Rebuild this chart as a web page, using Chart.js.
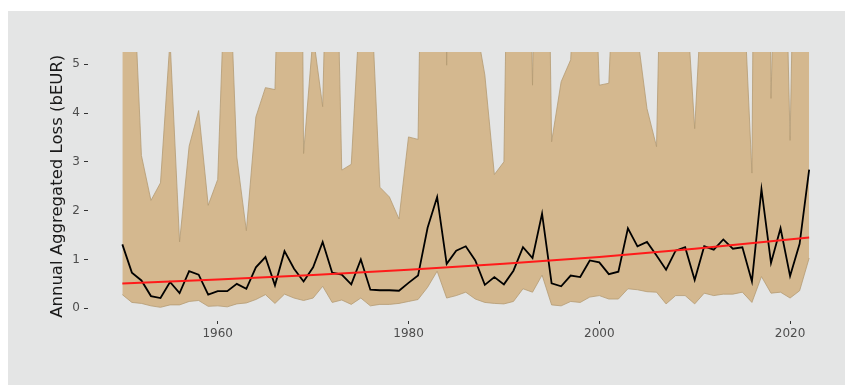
<!DOCTYPE html>
<html>
<head>
<meta charset="utf-8">
<script src="https://cdn.jsdelivr.net/npm/chart.js@4"></script>
<style>
  html, body { margin: 0; padding: 0; background: #ffffff; }
  #panel { position: absolute; left: 8px; top: 11px; width: 837px; height: 374px; background: #e4e5e5; }
</style>
</head>
<body>
<div id="panel"><canvas id="loss-chart"></canvas></div>
<script>
// years of the series
const years = [1950,1951,1952,1953,1954,1955,1956,1957,1958,1959,
  1960,1961,1962,1963,1964,1965,1966,1967,1968,1969,
  1970,1971,1972,1973,1974,1975,1976,1977,1978,1979,
  1980,1981,1982,1983,1984,1985,1986,1987,1988,1989,
  1990,1991,1992,1993,1994,1995,1996,1997,1998,1999,
  2000,2001,2002,2003,2004,2005,2006,2007,2008,2009,
  2010,2011,2012,2013,2014,2015,2016,2017,2018,2019,
  2020,2021,2022];

// median annual loss (bEUR)
const median = [1.31,0.73,0.57,0.25,0.21,0.54,0.31,0.76,0.69,0.28,
  0.35,0.35,0.50,0.40,0.84,1.05,0.47,1.17,0.81,0.55,
  0.84,1.36,0.73,0.69,0.49,1.00,0.38,0.37,0.37,0.36,
  0.52,0.67,1.65,2.28,0.91,1.18,1.27,0.98,0.48,0.64,
  0.49,0.77,1.25,1.03,1.94,0.51,0.45,0.67,0.64,0.98,
  0.94,0.70,0.75,1.64,1.27,1.36,1.08,0.79,1.18,1.25,
  0.58,1.27,1.20,1.41,1.22,1.25,0.55,2.44,0.93,1.64,
  0.66,1.32,2.84];

// lower bound of the band
const lower = [0.28,0.12,0.10,0.05,0.02,0.07,0.07,0.14,0.16,0.04,
  0.05,0.03,0.09,0.11,0.18,0.28,0.10,0.29,0.21,0.16,
  0.21,0.45,0.12,0.17,0.08,0.21,0.05,0.08,0.08,0.10,
  0.14,0.18,0.43,0.76,0.21,0.26,0.33,0.19,0.12,0.10,
  0.09,0.14,0.40,0.33,0.68,0.07,0.05,0.14,0.12,0.23,
  0.26,0.19,0.19,0.40,0.38,0.34,0.33,0.09,0.26,0.26,
  0.09,0.31,0.26,0.29,0.29,0.33,0.12,0.65,0.31,0.33,
  0.21,0.36,1.03];

// upper bound of the band (values above ~5.25 are cut off in the plot)
const upper = [9,7.6,3.13,2.21,2.57,5.5,1.36,3.32,4.05,2.11,
  2.64,8.2,3.10,1.59,3.92,4.52,4.48,12,30,3.17,
  5.6,4.13,12,2.83,2.95,6.5,6.8,2.48,2.28,1.83,
  3.51,3.46,16,20,4.98,20,15,5.9,4.78,2.74,
  3.00,16,15,4.57,17,3.41,4.64,5.09,9,10,
  4.57,4.61,9.3,8,5.6,4.09,3.31,12.7,10,6.8,
  3.68,7.4,9,9,9,7.1,2.77,30,4.3,12,
  3.44,14,10];

// trend line (red)
const trendYears = [1950,1960,1970,1980,1990,2000,2010,2022];
const trendValues = [0.51,0.59,0.68,0.79,0.91,1.05,1.22,1.45];

const xTicks = [1960,1980,2000,2020];
const yTicks = [0,1,2,3,4,5];

function pts(xs, ys) {
  return xs.map((x, i) => ({x: x, y: ys[i]}));
}

const tickFont = { family: "DejaVu Sans", size: 12 };

new Chart(document.getElementById('loss-chart'), {
  type: 'line',
  data: {
    datasets: [
      { label: 'trend', data: pts(trendYears, trendValues), borderColor: '#ff1a1a', borderWidth: 2, pointRadius: 0, fill: false },
      { label: 'median', data: pts(years, median), borderColor: '#000000', borderWidth: 1.8, pointRadius: 0, fill: false },
      { label: 'lower', data: pts(years, lower), borderColor: 'rgba(180,155,115,0.8)', borderWidth: 1, pointRadius: 0, fill: false },
      { label: 'upper', data: pts(years, upper), borderColor: 'rgba(180,155,115,0.8)', borderWidth: 1, pointRadius: 0,
        fill: 2, backgroundColor: '#d4b88f' }
    ]
  },
  options: {
    responsive: true,
    maintainAspectRatio: false,
    animation: false,
    layout: { padding: { top: 41, right: 1.5, left: 0, bottom: 0 } },
    plugins: { legend: { display: false }, tooltip: { enabled: false } },
    scales: {
      x: {
        type: 'linear',
        min: 1946.4,
        max: 2025.6,
        afterBuildTicks: function (scale) { scale.ticks = xTicks.map(v => ({value: v})); },
        afterFit: function (scale) { scale.height = 64.5; },
        grid: { display: true, drawOnChartArea: false, drawTicks: true, tickLength: 3.5, color: '#333333', lineWidth: 1 },
        border: { display: false },
        ticks: { color: '#4d4d4d', font: tickFont, padding: 3, maxRotation: 0, callback: v => String(v) }
      },
      y: {
        min: -0.25,
        max: 5.25,
        afterBuildTicks: function (scale) { scale.ticks = yTicks.map(v => ({value: v})); },
        afterFit: function (scale) { scale.width = 80; },
        grid: { display: true, drawOnChartArea: false, drawTicks: true, tickLength: 4, color: '#333333', lineWidth: 1 },
        border: { display: false },
        ticks: { color: '#4d4d4d', font: tickFont, padding: 4 },
        title: {
          display: true,
          text: 'Annual Aggregated Loss (bEUR)',
          color: '#1a1a1a',
          font: { family: "DejaVu Sans", size: 16.5 },
          padding: { top: 40, bottom: 0 }
        }
      }
    }
  }
});
</script>
</body>
</html>
